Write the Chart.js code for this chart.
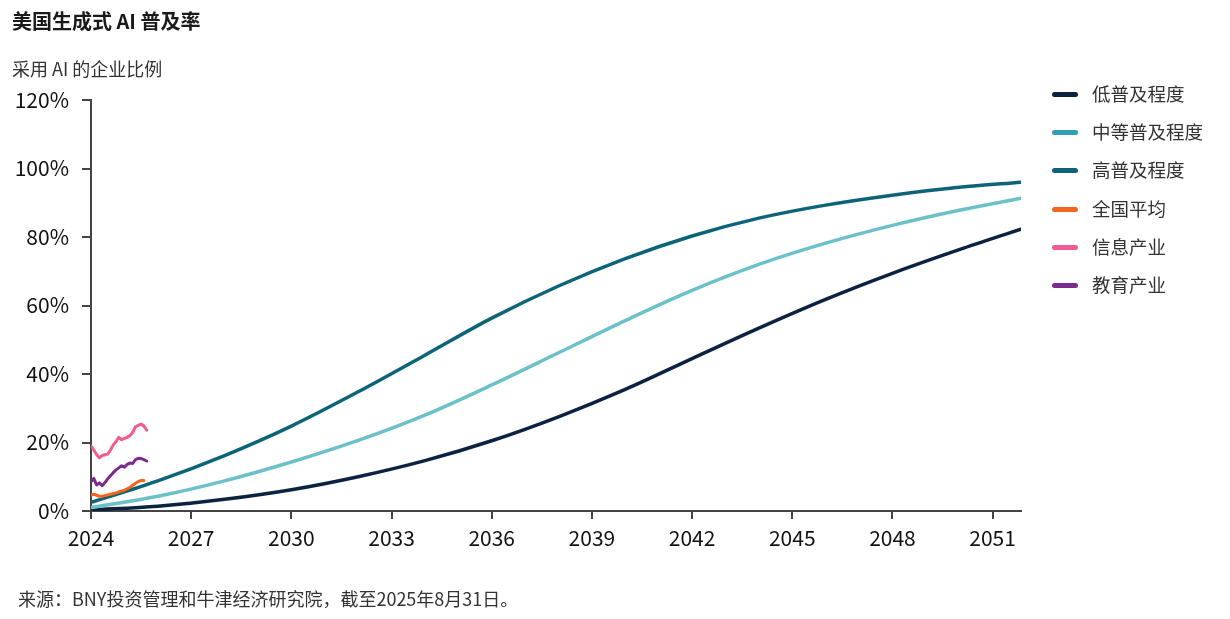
<!DOCTYPE html>
<html>
<head>
<meta charset="utf-8">
<script src="https://cdn.jsdelivr.net/npm/chart.js@4.4.1/dist/chart.umd.min.js"></script>
<style>
  html, body { margin: 0; padding: 0; background: #fff; }
  body { width: 1230px; height: 619px; position: relative; overflow: hidden;
         font-family: "Noto Sans CJK SC", "Noto Sans", sans-serif; color: #222; }
  #wrap { position: absolute; left: 0; top: 0; width: 1230px; height: 619px; }
  .title { position: absolute; left: 12px; top: 6px; font-size: 20px; font-weight: bold; color: #1a1a1a; white-space: nowrap; }
  .subtitle { position: absolute; left: 12px; top: 55px; font-size: 18px; color: #333; white-space: nowrap; }
  .source { position: absolute; left: 18px; top: 585px; font-size: 18px; color: #333; white-space: nowrap; }
  .legend { position: absolute; left: 1050px; top: 78px; width: 180px; }
  .legend .row { position: relative; height: 38.2px; font-size: 18.5px; color: #333; white-space: nowrap; }
  .legend .mark { position: absolute; left: 2px; top: 14px; width: 26px; height: 5px; border-radius: 3px; }
  .legend .lbl { position: absolute; left: 42px; top: 0; line-height: 30px; }
</style>
</head>
<body>
<div id="wrap"><canvas id="chart" width="1230" height="619"></canvas></div>
<div class="title">美国生成式 AI 普及率</div>
<div class="subtitle">采用 AI 的企业比例</div>
<div class="legend" id="legend"></div>
<div class="source">来源：BNY投资管理和牛津经济研究院，截至2025年8月31日。</div>
<script>
// scenario projections (year, % of firms)
const scenarioYears = [2024, 2026, 2028, 2030, 2032, 2034, 2036, 2038, 2040, 2042, 2044, 2046, 2048, 2050, 2051.85];
const lowSeries  = [0.3, 1.4, 3.4, 6.2, 10.0, 14.7, 20.5, 27.5, 35.5, 44.5, 53.4, 61.8, 69.4, 76.3, 82.3];
const midSeries  = [1.0, 4.3, 8.8, 14.3, 20.6, 28.0, 36.8, 46.2, 55.6, 64.4, 72.0, 78.2, 83.4, 87.8, 91.3];
const highSeries = [2.5, 8.8, 16.2, 24.8, 34.8, 45.5, 56.3, 65.7, 73.7, 80.3, 85.5, 89.3, 92.2, 94.5, 96.0];

// observed survey data, monthly from Jan 2024
const monthX = [2024.0, 2024.083, 2024.167, 2024.25, 2024.333, 2024.417, 2024.5, 2024.583, 2024.667, 2024.75, 2024.833, 2024.917, 2025.0, 2025.083, 2025.167, 2025.25, 2025.333, 2025.417, 2025.5, 2025.583, 2025.667];
const nationalSeries = [4.7, 4.9, 4.6, 4.3, 4.3, 4.5, 4.7, 4.9, 5.1, 5.3, 5.6, 5.8, 6.1, 6.5, 6.9, 7.5, 8.1, 8.6, 8.9, 8.9, null];
const infoSeries     = [19.0, 17.8, 16.5, 15.5, 16.2, 16.4, 16.6, 17.8, 19.3, 20.3, 21.5, 20.8, 21.2, 21.5, 22.0, 23.0, 24.6, 25.0, 25.4, 24.8, 23.6];
const eduSeries      = [8.5, 9.5, 7.6, 8.2, 7.4, 8.3, 9.4, 10.3, 11.2, 12.0, 12.6, 13.2, 12.8, 13.6, 14.0, 13.9, 15.0, 15.4, 15.3, 15.0, 14.6];

const xTicks = [2024, 2027, 2030, 2033, 2036, 2039, 2042, 2045, 2048, 2051];
const yTicks = [0, 20, 40, 60, 80, 100, 120];

const pairs = (xs, ys) => xs.map((x, i) => ({ x: x, y: ys[i] }));

const series = [
  { label: "低普及程度", data: pairs(scenarioYears, lowSeries), color: "#0b2341", legendColor: "#0b2341", width: 3.5, smooth: true },
  { label: "中等普及程度", data: pairs(scenarioYears, midSeries), color: "#6cc1c9", legendColor: "#2f9fb2", width: 3.5, smooth: true },
  { label: "高普及程度", data: pairs(scenarioYears, highSeries), color: "#0d6479", legendColor: "#0d6479", width: 3.5, smooth: true },
  { label: "全国平均", data: pairs(monthX, nationalSeries), color: "#f4661f", legendColor: "#f4661f", width: 3, smooth: false },
  { label: "信息产业", data: pairs(monthX, infoSeries), color: "#f15b91", legendColor: "#f15b91", width: 3, smooth: false },
  { label: "教育产业", data: pairs(monthX, eduSeries), color: "#7b2b8c", legendColor: "#7b2b8c", width: 3, smooth: false },
];

// html legend
const legendEl = document.getElementById("legend");
series.forEach((s) => {
  const row = document.createElement("div");
  row.className = "row";
  row.innerHTML = '<span class="mark" style="background:' + s.legendColor + '"></span><span class="lbl">' + s.label + "</span>";
  legendEl.appendChild(row);
});

const font = { family: '"Noto Sans CJK SC", "Noto Sans", sans-serif', size: 21 };

new Chart(document.getElementById("chart"), {
  type: "line",
  data: {
    datasets: series.map((s, i) => ({
      label: s.label,
      data: s.data,
      borderColor: s.color,
      backgroundColor: s.color,
      borderWidth: s.width,
      pointRadius: 0,
      cubicInterpolationMode: s.smooth ? "monotone" : "default",
      tension: 0,
      spanGaps: false,
      borderCapStyle: "round",
      borderJoinStyle: "round",
      order: 10 - i,
    })),
  },
  options: {
    responsive: false,
    animation: false,
    layout: { padding: { top: 100, right: 209, bottom: 68, left: 0 } },
    plugins: { legend: { display: false }, tooltip: { enabled: false } },
    scales: {
      x: {
        type: "linear",
        min: 2024,
        max: 2051.85,
        afterBuildTicks: (scale) => { scale.ticks = xTicks.map((v) => ({ value: v })); },
        afterFit: (scale) => { scale.height = 40; },
        border: { display: true, color: "#444", width: 2 },
        grid: { display: true, drawOnChartArea: false, drawTicks: true, tickLength: 8, color: "#444", lineWidth: 2 },
        ticks: { color: "#111", font: font, padding: 6, maxRotation: 0, callback: (v) => String(v) },
      },
      y: {
        min: 0,
        max: 120,
        afterBuildTicks: (scale) => { scale.ticks = yTicks.map((v) => ({ value: v })); },
        afterFit: (scale) => { scale.width = 91; },
        border: { display: true, color: "#444", width: 2 },
        grid: { display: true, drawOnChartArea: false, drawTicks: true, tickLength: 9, color: "#444", lineWidth: 2 },
        ticks: { color: "#111", font: font, padding: 13, callback: (v) => v + "%" },
      },
    },
  },
});
</script>
</body>
</html>
